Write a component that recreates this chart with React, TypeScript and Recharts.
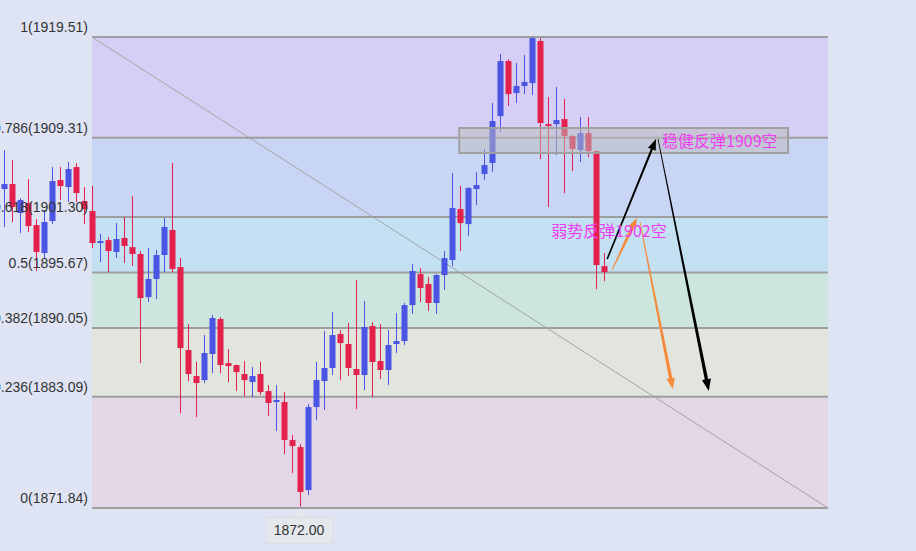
import { ComposedChart, Bar, XAxis, YAxis, ReferenceArea, ReferenceLine, ReferenceDot } from 'recharts';

// candle data (one per bar, left to right)
const opens = [
  1904.13, 1904.63, 1901.7, 1902.71, 1900.48, 1897.65, 1900.89, 1905.04, 1904.33, 1906.35,
  1902.91, 1901.9, 1898.66, 1898.96, 1897.75, 1899.17, 1898.25, 1897.55, 1893.19, 1895.02,
  1897.45, 1899.98, 1896.23, 1887.83, 1885.2, 1884.79, 1887.43, 1890.97, 1886.51, 1886.31,
  1885.4, 1884.59, 1885.4, 1883.68, 1882.57, 1882.57, 1878.72, 1878.01, 1873.66, 1882.06,
  1884.69, 1886.01, 1889.45, 1888.44, 1885.91, 1885.3, 1890.26, 1886.72, 1885.81, 1888.44,
  1888.74, 1892.38, 1895.52, 1894.51, 1892.59, 1895.42, 1896.94, 1902.1, 1900.58, 1904.13,
  1905.64, 1906.76, 1911.51, 1917.08, 1913.84, 1914.55, 1914.85, 1919.11, 1910.7, 1910.7,
  1911.21, 1909.49, 1908.07, 1909.79, 1907.97, 1896.33,
];
const highs = [
  1908.07, 1907.06, 1903.21, 1905.14, 1901.09, 1902.0, 1906.35, 1906.35, 1906.86, 1906.76,
  1904.33, 1904.43, 1899.57, 1899.27, 1900.68, 1901.29, 1903.42, 1897.85, 1898.15, 1897.95,
  1901.19, 1906.76, 1897.14, 1890.46, 1886.62, 1889.35, 1891.37, 1891.17, 1887.93, 1886.35,
  1886.72, 1886.11, 1886.62, 1884.29, 1884.29, 1883.58, 1879.23, 1878.31, 1882.36, 1886.62,
  1889.75, 1891.68, 1889.85, 1890.56, 1894.92, 1892.79, 1890.66, 1890.46, 1889.85, 1891.58,
  1892.59, 1896.53, 1896.13, 1895.22, 1895.52, 1897.85, 1905.74, 1904.43, 1904.33, 1905.85,
  1908.17, 1912.83, 1917.79, 1917.28, 1916.88, 1917.69, 1919.51, 1919.41, 1913.44, 1914.45,
  1913.24, 1909.59, 1911.41, 1911.41, 1908.0, 1897.65,
];
const lows = [
  1900.28, 1900.79, 1899.67, 1899.77, 1895.83, 1897.14, 1900.58, 1903.01, 1902.81, 1902.81,
  1900.58, 1898.15, 1896.74, 1895.72, 1897.14, 1896.64, 1896.33, 1886.51, 1892.69, 1892.99,
  1895.72, 1895.72, 1881.45, 1884.69, 1881.05, 1884.49, 1885.5, 1885.5, 1884.59, 1883.68,
  1883.17, 1883.07, 1883.28, 1881.15, 1879.63, 1877.3, 1875.38, 1872.0, 1873.15, 1880.75,
  1881.76, 1885.3, 1884.79, 1885.2, 1881.86, 1883.78, 1883.07, 1884.89, 1884.29, 1887.53,
  1888.34, 1891.47, 1892.69, 1891.78, 1891.47, 1893.9, 1896.33, 1897.85, 1899.37, 1902.51,
  1905.04, 1905.85, 1909.9, 1912.53, 1912.83, 1913.74, 1913.64, 1907.16, 1902.3, 1907.57,
  1903.72, 1905.95, 1906.86, 1907.36, 1894.0, 1894.81,
];
const closes = [
  1904.63, 1902.3, 1903.01, 1900.38, 1897.75, 1900.79, 1904.94, 1904.43, 1906.15, 1903.72,
  1902.1, 1898.66, 1898.86, 1897.85, 1899.07, 1898.36, 1897.55, 1893.09, 1895.02, 1897.45,
  1900.28, 1896.03, 1888.03, 1885.4, 1884.49, 1887.53, 1891.07, 1886.31, 1886.21, 1885.6,
  1884.79, 1885.2, 1883.58, 1882.47, 1882.77, 1878.72, 1878.11, 1873.46, 1882.06, 1884.79,
  1886.01, 1889.35, 1888.54, 1886.01, 1885.3, 1890.16, 1886.62, 1885.81, 1888.34, 1888.74,
  1892.38, 1895.83, 1894.11, 1892.59, 1895.42, 1897.14, 1902.2, 1900.68, 1904.23, 1904.53,
  1906.55, 1911.01, 1917.08, 1913.74, 1914.55, 1914.96, 1919.41, 1910.81, 1910.5, 1911.11,
  1909.49, 1908.17, 1909.79, 1907.97, 1896.43, 1895.72,
];

// fibonacci retracement
const fibRatios = [1, 0.786, 0.618, 0.5, 0.382, 0.236, 0];
const fibPrices = [1919.51, 1909.31, 1901.3, 1895.67, 1890.05, 1883.09, 1871.84];
const fibZoneColors = ['#d6cef5', '#c8d5f5', '#c3e1f2', '#cde5df', '#e2e4de', '#e3d6e7'];
const fibStart = 11;
const fibEnd = 103;

// resistance box + notes
const boxX = [56.9, 98];
const boxY = [1907.77, 1910.3];
const notes = [
  { text: '稳健反弹1909空', x: 82.25, y: 1908.98 },
  { text: '弱势反弹1902空', x: 68.4, y: 1899.87 },
];
const lowMark = { x: 37, y: 1872.0, text: '1872.00' };

// hand-drawn arrows: start/end in (bar index, price)
const arrows = [
  { from: [75.4, 1897.04], to: [81.5, 1909.19], color: '#000000', w0: 1.6, w1: 2.2, head: 11 },
  { from: [81.75, 1909.19], to: [88.1, 1883.68], color: '#000000', w0: 0.8, w1: 3.4, head: 12 },
  { from: [76.0, 1895.93], to: [79.1, 1901.19], color: '#f68a3a', w0: 0.8, w1: 3.6, head: 10 },
  { from: [79.5, 1900.79], to: [83.6, 1883.88], color: '#f68a3a', w0: 0.8, w1: 3.4, head: 11 },
];

const RED = '#e4214c';
const BLUE = '#4a55e4';
const BG = '#dfe4f5';

const candles = opens.map((open, i) => ({
  idx: i,
  open,
  high: highs[i],
  low: lows[i],
  close: closes[i],
  range: [lows[i], highs[i]],
}));

const Candle = (props: any) => {
  const { x, y, width, height, payload } = props;
  if (x == null || y == null) return null;
  const { open, close, high, low } = payload;
  const top = Math.min(y, y + height);
  const h = Math.abs(height);
  const span = high - low || 1;
  const py = (v: number) => top + ((high - v) / span) * h;
  const color = close >= open ? BLUE : RED;
  const cx = Math.floor(x + width / 2) + 0.5;
  const bodyTop = py(Math.max(open, close));
  const bodyH = Math.max(2, Math.abs(py(open) - py(close)));
  return (
    <g>
      <line x1={cx} x2={cx} y1={top} y2={top + h} stroke={color} strokeWidth={1} />
      <rect x={cx - 3} y={bodyTop} width={6} height={bodyH} fill={color} />
    </g>
  );
};

const arrowShape = (a: any) => (p: any) => {
  const { x1, y1, x2, y2 } = p;
  const dx = x2 - x1;
  const dy = y2 - y1;
  const len = Math.hypot(dx, dy) || 1;
  const ux = dx / len;
  const uy = dy / len;
  const nx = -uy;
  const ny = ux;
  const bx = x2 - ux * a.head;
  const by = y2 - uy * a.head;
  const hw = a.head * 0.38;
  const pts = [
    [x1 + (nx * a.w0) / 2, y1 + (ny * a.w0) / 2],
    [bx + (nx * a.w1) / 2, by + (ny * a.w1) / 2],
    [bx + nx * hw, by + ny * hw],
    [x2, y2],
    [bx - nx * hw, by - ny * hw],
    [bx - (nx * a.w1) / 2, by - (ny * a.w1) / 2],
    [x1 - (nx * a.w0) / 2, y1 - (ny * a.w0) / 2],
  ];
  return <polygon points={pts.map((q) => q.join(',')).join(' ')} fill={a.color} />;
};

export default function App() {
  return (
    <div style={{ position: 'absolute', left: 0, top: 0, width: 916, height: 551, background: BG, overflow: 'hidden' }}>
      <ComposedChart
        width={916}
        height={551}
        data={candles}
        margin={{ top: 0, right: 0, bottom: 0, left: 0 }}
      >
        <XAxis dataKey="idx" type="number" domain={[-0.5, 114]} allowDataOverflow hide />
        <YAxis type="number" domain={[1867.49, 1923.26]} allowDataOverflow hide />

        {/* fib zones */}
        {fibZoneColors.map((c, i) => (
          <ReferenceArea
            key={`zone-${i}`}
            x1={fibStart}
            x2={fibEnd}
            y1={fibPrices[i + 1]}
            y2={fibPrices[i]}
            fill={c}
            fillOpacity={1}
            stroke="none"
            zIndex={50}
          />
        ))}

        {/* fib level lines */}
        {fibPrices.map((p, i) => (
          <ReferenceLine
            key={`lvl-${i}`}
            segment={[{ x: fibStart, y: p }, { x: fibEnd, y: p }]}
            stroke="#9e9e9e"
            strokeWidth={2}
            zIndex={150}
          />
        ))}

        {/* trend line across the fib */}
        <ReferenceLine
          segment={[{ x: fibStart, y: fibPrices[0] }, { x: fibEnd, y: fibPrices[6] }]}
          stroke="#a4a4a4"
          strokeWidth={1}
          zIndex={150}
        />

        <Bar dataKey="range" barSize={6} shape={Candle} isAnimationActive={false} />

        {/* resistance box */}
        <ReferenceArea
          x1={boxX[0]}
          x2={boxX[1]}
          y1={boxY[0]}
          y2={boxY[1]}
          fill="#bcbcbc"
          fillOpacity={0.5}
          stroke="#a0a0a0"
          strokeWidth={2}
          zIndex={350}
        />

        {/* fib labels */}
        {fibPrices.map((p, i) => (
          <ReferenceDot
            key={`lab-${i}`}
            x={fibStart}
            y={p}
            r={0}
            zIndex={700}
            shape={(d: any) => (
              <text
                x={d.cx - 4}
                y={d.cy - 5}
                textAnchor="end"
                fontSize={14}
                fill="#333"
                fontFamily="'Liberation Sans', Arial, sans-serif"
              >
                {`${fibRatios[i]}(${p.toFixed(2)})`}
              </text>
            )}
          />
        ))}

        {/* arrows */}
        {arrows.map((a, i) => (
          <ReferenceLine
            key={`arrow-${i}`}
            segment={[{ x: a.from[0], y: a.from[1] }, { x: a.to[0], y: a.to[1] }]}
            stroke={a.color}
            zIndex={720}
            shape={arrowShape(a)}
          />
        ))}

        {/* notes */}
        {notes.map((n, i) => (
          <ReferenceDot
            key={`note-${i}`}
            x={n.x}
            y={n.y}
            r={0}
            zIndex={730}
            shape={(d: any) => (
              <text
                x={d.cx}
                y={d.cy + 6}
                fontSize={16}
                fill="#f03cf0"
                fontFamily="'Noto Sans CJK SC', sans-serif"
              >
                {n.text}
              </text>
            )}
          />
        ))}

        {/* low callout */}
        <ReferenceDot
          x={lowMark.x}
          y={lowMark.y}
          r={0}
          zIndex={740}
          shape={(d: any) => (
            <g>
              <polygon
                points={`${d.cx - 8},${d.cy + 11} ${d.cx},${d.cy + 2} ${d.cx + 8},${d.cy + 11}`}
                fill="#e4e7eb"
              />
              <rect x={d.cx - 34} y={d.cy + 11} width={67} height={26} fill="#e4e7eb" stroke="#d9dde3" />
              <text
                x={d.cx - 1}
                y={d.cy + 29}
                textAnchor="middle"
                fontSize={14}
                fill="#333"
                fontFamily="'Liberation Sans', Arial, sans-serif"
              >
                {lowMark.text}
              </text>
            </g>
          )}
        />
      </ComposedChart>
    </div>
  );
}
